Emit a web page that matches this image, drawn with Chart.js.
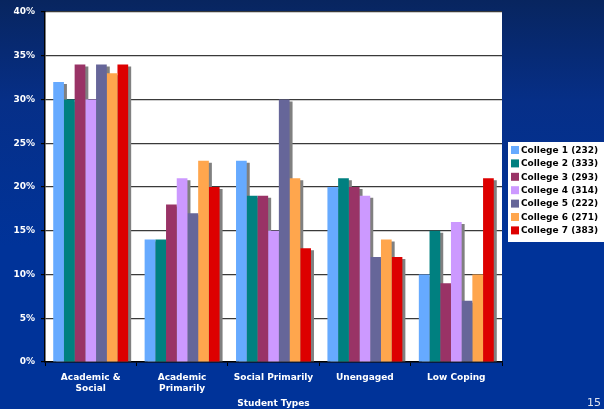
<!DOCTYPE html>
<html>
<head>
<meta charset="utf-8">
<script src="https://cdn.jsdelivr.net/npm/chart.js@4"></script>
<style>
  html, body { margin:0; padding:0; }
  body { width:604px; height:409px; overflow:hidden;
    background: linear-gradient(180deg, #08255f 0%, #062f88 25%, #003399 60%, #003399 100%); }
  #wrap { position:relative; width:604px; height:409px; }
  #pg { position:absolute; left:587px; top:396px; color:#e0e4f0; font:11px "DejaVu Sans", sans-serif; }
</style>
</head>
<body>
<div id="wrap">
  <canvas id="chart"></canvas>
  <div id="pg">15</div>
</div>
<script>
// student types on the x axis
const categories = [["Academic &", "Social"], ["Academic", "Primarily"], "Social Primarily", "Unengaged", "Low Coping"];
const colleges = ["College 1 (232)", "College 2 (333)", "College 3 (293)", "College 4 (314)", "College 5 (222)", "College 6 (271)", "College 7 (383)"];
const colors = ["#66aaff", "#008080", "#993366", "#cc99ff", "#666699", "#ffa64d", "#dd0000"];

// percent of students per type
const college1 = [32, 14, 23, 20, 10];
const college2 = [30, 14, 19, 21, 15];
const college3 = [34, 18, 19, 20, 9];
const college4 = [30, 21, 15, 19, 16];
const college5 = [34, 17, 30, 12, 7];
const college6 = [33, 23, 21, 14, 10];
const college7 = [34, 20, 13, 12, 21];
const series = [college1, college2, college3, college4, college5, college6, college7];

const FONT = "'DejaVu Sans', Verdana, sans-serif";

// white plot background
const plotBg = {
  id: "plotBg",
  beforeDraw(chart){
    const {ctx, chartArea:a} = chart;
    ctx.save();
    ctx.fillStyle = "#fff";
    ctx.fillRect(a.left, a.top, a.right - a.left, a.bottom - a.top);
    ctx.restore();
  }
};

// gray drop shadows, drawn under all the bars
const shadows = {
  id: "shadows",
  beforeDatasetsDraw(chart){
    const {ctx} = chart;
    ctx.save();
    ctx.fillStyle = "#808080";
    chart.getSortedVisibleDatasetMetas().forEach(meta => {
      meta.data.forEach(bar => {
        const w = bar.width;
        ctx.fillRect(bar.x - w/2 + 3, bar.y + 2, w, bar.base - bar.y - 2);
      });
    });
    ctx.restore();
  }
};

// legend box on the right
const sideLegend = {
  id: "sideLegend",
  afterDraw(chart){
    const {ctx, chartArea:a} = chart;
    const x = a.right + 6, y = 142, rowH = 13.4;
    ctx.save();
    ctx.fillStyle = "#fff";
    ctx.fillRect(x, y, 100, 100);
    ctx.font = "bold 9px " + FONT;
    ctx.textBaseline = "middle";
    chart.data.datasets.forEach((ds, i) => {
      const cy = y + 8 + i * rowH;
      ctx.fillStyle = ds.backgroundColor;
      ctx.fillRect(x + 3, cy - 4, 8, 8);
      ctx.fillStyle = "#000";
      ctx.fillText(ds.label, x + 13, cy + 0.5);
    });
    ctx.restore();
  }
};

new Chart(document.getElementById("chart"), {
  type: "bar",
  data: {
    labels: categories,
    datasets: series.map((d, i) => ({
      label: colleges[i], data: d, backgroundColor: colors[i],
      borderWidth: 0, categoryPercentage: 0.82, barPercentage: 1
    }))
  },
  options: {
    responsive: true, maintainAspectRatio: false, animation: false,
    layout: { padding: { top: 12, right: 102, left: 0, bottom: 0 } },
    plugins: { legend: { display: false }, tooltip: { enabled: false } },
    scales: {
      x: {
        afterFit(s){ s.height = 47; },
        grid: { drawOnChartArea: false, offset: true, tickLength: 4, color: "#000" },
        border: { color: "#000", width: 1.5 },
        ticks: { color: "#fff", font: { family: FONT, weight: "bold", size: 9 }, padding: 6, maxRotation: 0, autoSkip: false },
        title: { display: true, text: "Student Types", color: "#fff", font: { family: FONT, weight: "bold", size: 9 }, padding: { top: 2, bottom: 0 } }
      },
      y: {
        min: 0, max: 40,
        afterFit(s){ s.width = 45; },
        grid: { color: "#3a3a3a", lineWidth: 1.2, tickLength: 4, tickColor: "#000" },
        border: { color: "#000", width: 1.5 },
        ticks: { stepSize: 5, color: "#fff", padding: 6, font: { family: FONT, weight: "bold", size: 9 }, callback: v => v + "%" }
      }
    }
  },
  plugins: [plotBg, shadows, sideLegend]
});
</script>
</body>
</html>
